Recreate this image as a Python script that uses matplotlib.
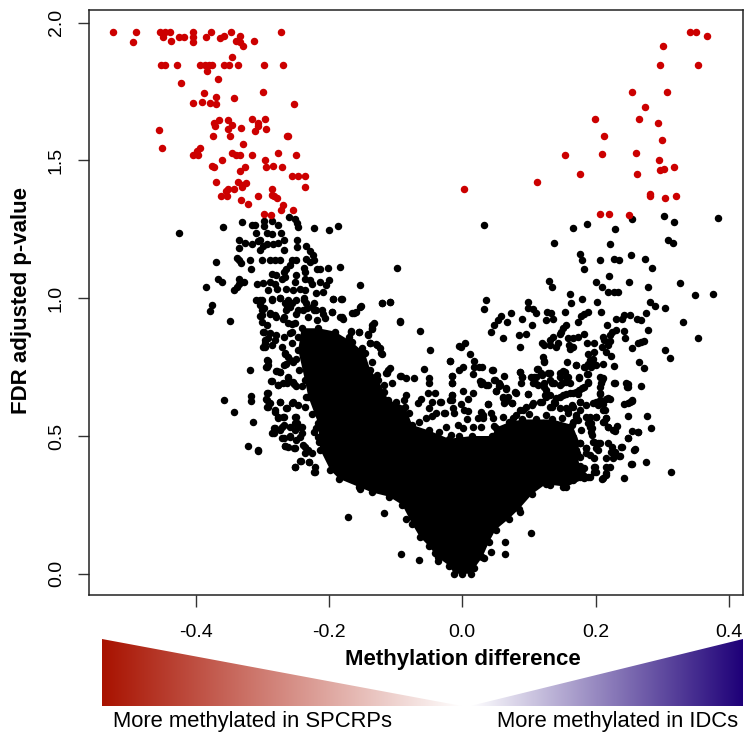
import numpy as np
import matplotlib
matplotlib.use("Agg")
import matplotlib.pyplot as plt
from matplotlib.colors import LinearSegmentedColormap
from matplotlib.patches import Polygon

# Significant CpG sites (red)
red_left = [(-.524,1.967),(-.489,1.967),(-.493,1.928),(-.453,1.967),(-.446,1.967),(-.438,1.967),(-.449,1.949),(-.437,1.933),
(-.425,1.949),(-.417,1.947),(-.403,1.967),(-.404,1.947),(-.404,1.928),(-.384,1.947),(-.377,1.967),(-.364,1.943),(-.357,1.950),
(-.347,1.967),(-.333,1.950),(-.339,1.933),(-.334,1.931),(-.329,1.915),(-.312,1.933),(-.272,1.967),
(-.451,1.847),(-.446,1.847),(-.428,1.847),(-.393,1.847),(-.386,1.847),(-.380,1.847),(-.375,1.847),(-.358,1.847),(-.350,1.847),
(-.337,1.847),(-.298,1.847),(-.269,1.847),(-.383,1.825),(-.345,1.874),(-.366,1.796),(-.421,1.780),(-.387,1.743),(-.369,1.731),
(-.342,1.725),(-.299,1.749),(-.403,1.708),(-.391,1.711),(-.378,1.708),(-.370,1.704),(-.253,1.704),(-.365,1.647),(-.373,1.635),
(-.371,1.624),(-.351,1.647),(-.346,1.627),(-.352,1.615),(-.332,1.616),(-.316,1.652),(-.296,1.652),(-.307,1.636),(-.307,1.624),
(-.295,1.615),(-.311,1.605),(-.455,1.610),(-.374,1.587),(-.349,1.587),(-.263,1.587),(-.261,1.587),(-.329,1.561),(-.450,1.545),
(-.394,1.546),(-.398,1.534),(-.404,1.518),(-.396,1.518),(-.345,1.528),(-.340,1.519),(-.333,1.519),(-.315,1.519),(-.276,1.526),
(-.249,1.519),(-.361,1.500),(-.296,1.501),(-.295,1.476),(-.284,1.479),(-.270,1.477),(-.375,1.479),(-.372,1.477),(-.326,1.477),
(-.334,1.462),(-.256,1.442),(-.247,1.442),(-.236,1.442),(-.369,1.420),(-.336,1.421),(-.325,1.419),(-.331,1.409),(-.330,1.402),
(-.236,1.404),(-.351,1.396),(-.355,1.388),(-.342,1.396),(-.362,1.372),(-.353,1.372),(-.286,1.396),(-.307,1.372),(-.286,1.373),
(-.282,1.371),(-.278,1.362),(-.332,1.356),(-.322,1.342),(-.269,1.339),(-.272,1.320),(-.254,1.321),(-.297,1.307),(-.287,1.301)]
red_right = [(.341,1.967),(.351,1.967),(.367,1.950),(.301,1.915),(.297,1.847),(.354,1.847),(.255,1.749),(.307,1.749),(.274,1.694),
(.199,1.652),(.265,1.652),(.293,1.635),(.212,1.587),(.300,1.575),(.154,1.519),(.210,1.522),(.261,1.526),(.295,1.500),(.317,1.476),
(.296,1.465),(.302,1.467),(.176,1.450),(.262,1.450),(.112,1.423),(.002,1.396),(.282,1.378),(.281,1.372),(.304,1.362),(.321,1.372),
(.207,1.304),(.220,1.304),(.250,1.301)]

# Non-significant sites (black), left arm
black_left = [(-.424,1.237),(-.359,1.257),(-.330,1.278),(-.316,1.267),(-.311,1.266),(-.298,1.279),(-.298,1.261),(-.286,1.279),(-.276,1.266),
(-.260,1.295),(-.251,1.289),(-.248,1.273),(-.246,1.258),(-.223,1.254),(-.200,1.247),(-.186,1.261),(-.309,1.237),(-.293,1.237),(-.286,1.234),
(-.272,1.237),(-.335,1.212),(-.326,1.200),(-.316,1.198),(-.306,1.208),(-.304,1.212),(-.293,1.198),(-.284,1.198),(-.276,1.202),(-.268,1.212),
(-.248,1.212),(-.335,1.182),(-.304,1.176),(-.299,1.188),(-.268,1.174),(-.248,1.184),(-.234,1.188),(-.228,1.171),(-.224,1.156),(-.223,1.140),
(-.234,1.144),(-.228,1.131),(-.370,1.133),(-.338,1.147),(-.335,1.138),(-.332,1.128),(-.319,1.140),(-.317,1.107),(-.300,1.140),(-.289,1.140),
(-.281,1.140),(-.274,1.140),(-.256,1.140),(-.249,1.140),(-.259,1.119),(-.265,1.107),(-.268,1.095),(-.238,1.111),(-.236,1.095),(-.218,1.107),
(-.214,1.107),(-.202,1.111),(-.183,1.113),(-.098,1.110),(-.286,1.089),(-.279,1.083),(-.271,1.071),(-.266,1.077),(-.249,1.083),(-.236,1.071),
(-.251,1.059),(-.229,1.065),(-.367,1.069),(-.361,1.059),(-.384,1.042),(-.335,1.071),(-.328,1.060),(-.335,1.051),(-.338,1.041),(-.343,1.028),
(-.308,1.051),(-.299,1.055),(-.289,1.059),(-.281,1.053),(-.278,1.035),(-.291,1.028),(-.264,1.035),(-.254,1.029),(-.244,1.035),(-.236,1.029),
(-.226,1.053),(-.214,1.059),(-.200,1.065),(-.204,1.047),(-.209,1.023),(-.219,1.019),(-.153,1.049),(-.310,.993),(-.301,.993),(-.286,.995),
(-.274,.999),(-.261,.995),(-.249,.993),(-.238,.999),(-.194,.996),(-.181,.996),(-.120,.981),(-.109,.987),(-.376,.976),(-.379,.953),(-.349,.919),
(-.304,.975),(-.300,.956),(-.304,.935),(-.300,.914),(-.299,.878),(-.293,.902),(-.289,.942),(-.279,.932),(-.269,.926),(-.266,.981),(-.259,.968),
(-.264,.956),(-.249,.944),(-.256,.908),(-.239,.956),(-.234,.981),(-.226,.968),(-.219,.956),(-.209,.944),(-.196,.950),(-.184,.932),(-.179,.926),
(-.166,.947),(-.159,.950),(-.153,.968),(-.093,.915),(-.135,.904),(-.136,.890),(-.141,.866),(-.167,.878),(-.155,.878),(-.063,.881),(-.139,.838),
(-.129,.833),(-.124,.818),(-.120,.797),(-.049,.811),(-.005,.826),(-.018,.773),(-.057,.743),(-.296,.836),(-.299,.824),(-.291,.854),(-.279,.866),
(-.259,.872),(-.266,.799),(-.261,.787),(-.293,.775),(-.291,.757),(-.294,.749),(-.319,.738),(-.279,.735),(-.274,.733),(-.286,.700),(-.276,.685),
(-.269,.691),(-.261,.709),(-.254,.697),(-.249,.681),(-.264,.761),(-.254,.769),(-.111,.741),(-.115,.729),(-.093,.718),(-.084,.711),(-.073,.711),
(-.050,.709),(-.050,.691),(-.015,.717),(-.016,.691),(-.125,.657),(-.084,.648),(-.088,.630),(-.051,.657),(-.041,.657),(-.045,.624),(-.033,.624),
(-.050,.600),(-.062,.636),(-.066,.620),(-.016,.648),(-.016,.630),(-.026,.584),(-.039,.582),(-.046,.572),(-.054,.564),(-.293,.657),(-.294,.633),
(-.293,.606),(-.288,.618),(-.274,.622),(-.254,.622),(-.264,.600),(-.358,.630),(-.317,.645),(-.317,.628),(-.343,.587),(-.314,.551),(-.322,.463),
(-.307,.448),(-.281,.594),(-.276,.570),(-.269,.570),(-.249,.570),(-.251,.546),(-.244,.534),(-.281,.528),(-.285,.510),(-.271,.534),(-.259,.534),
(-.270,.491),(-.259,.500),(-.266,.464),(-.261,.459),(-.251,.455),(-.249,.485),(-.239,.467),(-.231,.449),(-.251,.389),(-.243,.409),(-.230,.404),
(-.221,.389),(-.222,.370),(-.172,.207),(-.153,.309),
(-.303,.994),(-.298,.963),(-.301,.939),(-.288,.945),(-.281,.939),(-.268,.933),(-.263,.963),(-.256,.981),(-.273,1.0),(-.286,.996),(-.246,.957),
(-.238,.993),(-.223,.981),(-.211,.957),(-.196,.951),(-.181,.933),(-.163,.948),(-.152,.972),(-.194,.997),(-.182,.997),(-.121,.984),(-.108,.987),
(-.093,.917),(-.133,.909),(-.136,.891),(-.141,.870),(-.167,.881),(-.155,.879),(-.138,.839),(-.128,.830),(-.122,.800),(-.108,.745),(-.113,.730),
(-.092,.718),(-.118,.685),(-.106,.691),(-.125,.657),(-.298,.879),(-.288,.872),(-.296,.848),(-.296,.824),(-.281,.848),(-.268,.860),(-.256,.879),
(-.266,.800),(-.258,.776),(-.268,.758),(-.292,.773),(-.293,.751),(-.278,.736),(-.273,.733),(-.262,.713),(-.287,.701),(-.276,.685),(-.263,.691),
(-.252,.689),(-.292,.657),(-.293,.630),(-.292,.606),(-.273,.624),(-.256,.621),(-.263,.603),(-.281,.588),(-.276,.564),(-.268,.570),(-.251,.570),
(-.268,.540),(-.273,.522),(-.283,.528),(-.283,.510),(-.258,.497),(-.268,.491),(-.251,.522),(-.243,.497),(-.266,.463),(-.252,.455),(-.307,.447),
(-.242,.410),(-.230,.404),(-.251,.389),(-.221,.370),(-.236,.461),(-.226,.437),(-.236,.437),(-.246,.612),(-.236,.606),(-.248,.546),(-.241,.534),
(-.241,.510),(-.223,.516),(-.216,.497),(-.231,.933),(-.218,.921),(-.206,.927),(-.251,.909),(-.261,.909),(-.223,.957),(-.233,.963),(-.246,.860),
(-.271,.824),(-.256,.836),(-.286,.830),
(-.118,.222),(-.085,.199),(-.092,.072),(-.065,.050),(-.037,.046),(-.041,.074),
(-.17,.86),(-.15,.82),(-.135,.77),(-.128,.72),(-.118,.66),(-.10,.625),(-.08,.585),(-.065,.55),(-.035,.515),(-.005,.50),
(-.25,.78),(-.245,.74),(-.24,.68),(-.235,.64),(-.225,.58),(-.22,.53),(-.215,.48)]

# Non-significant sites (black), right arm
black_right = [(.033,1.267),(.166,1.256),(.187,1.269),(.229,1.250),(.254,1.289),(.302,1.299),(.318,1.277),(.383,1.292),(.138,1.200),(.221,1.198),
(.308,1.210),(.316,1.202),(.176,1.161),(.180,1.140),(.207,1.140),(.227,1.141),(.235,1.140),(.253,1.158),(.274,1.142),(.284,1.110),(.183,1.106),
(.220,1.080),(.130,1.061),(.134,1.041),(.201,1.059),(.209,1.041),(.250,1.059),(.279,1.042),(.327,1.055),(.219,1.023),(.228,1.023),(.233,1.023),
(.162,1.017),(.349,1.011),(.376,1.014),(.035,.995),(.033,.959),(.098,.985),(.098,.966),(.106,.959),(.110,.948),(.163,.983),(.180,.996),(.202,.988),
(.282,.987),(.289,.972),(.304,.966),(.073,.948),(.058,.935),(.053,.920),(.048,.902),(.043,.877),(.067,.913),(.090,.923),(.105,.902),(.127,.950),
(.133,.948),(.126,.920),(.136,.925),(.154,.949),(.173,.913),(.188,.950),(.183,.944),(.178,.937),(.208,.949),(.276,.947),(.251,.938),(.243,.938),
(.240,.923),(.230,.923),(.262,.925),(.268,.920),(.331,.915),(.217,.902),(.279,.884),(.155,.904),(.151,.893),(.148,.878),(.146,.869),(.230,.883),
(.225,.878),(.242,.881),(.061,.857),(.085,.866),(.096,.869),(.183,.869),(.173,.860),(.166,.857),(.158,.854),(.136,.860),(.132,.848),(.120,.838),
(.122,.830),(.143,.838),(.141,.824),(.132,.830),(.087,.824),(.354,.857),(.244,.854),(.254,.821),(.263,.838),(.272,.845),(.268,.842),(.211,.860),
(.221,.866),(.213,.848),(.222,.845),(.218,.830),(.210,.824),(.187,.839),(.198,.839),(.160,.830),(.166,.824),(.162,.814),(.304,.811),(.312,.784),
(.004,.839),(-.002,.824),(.188,.799),(.197,.805),(.216,.805),(.223,.790),(.121,.787),(.122,.773),(.012,.796),(.018,.773),(.025,.751),(.018,.751),
(-.018,.773),(.001,.749),(-.005,.739),(.016,.726),(.157,.767),(.171,.757),(.191,.775),(.196,.781),(.188,.761),(.198,.763),(.183,.751),(.211,.761),
(.193,.751),(.227,.755),(.265,.767),(.273,.745),(.045,.741),(.062,.718),(-.015,.718),(-.016,.691),(.086,.733),(.089,.715),(.088,.691),(.112,.744),
(.103,.715),(.111,.715),(.106,.691),(.113,.685),(.118,.727),(.128,.727),(.131,.703),(.123,.691),(.151,.735),(.155,.715),(.147,.715),(.156,.697),
(.149,.691),(.138,.691),(.188,.724),(.175,.711),(.188,.697),(.182,.679),(.175,.667),(.207,.715),(.211,.709),(.208,.691),(.206,.679),(.228,.691),
(.246,.693),(.247,.679),(.268,.683),(.027,.700),(.028,.688),(.036,.684),(.047,.703),(.055,.691),(.057,.684),(.051,.663),(.066,.672),(.001,.664),
(.016,.657),(.009,.633),(-.016,.648),(-.018,.630),(.080,.657),(.098,.652),(.061,.640),(.068,.640),(.063,.621),(.074,.621),(.039,.616),(-.032,.623),
(-.002,.616),(.002,.594),(.009,.590),(-.014,.600),(-.013,.584),(-.027,.584),(.028,.588),(.043,.584),(.007,.560),(.031,.564),(.023,.564),(.016,.534),
(-.007,.540),(.001,.528),(-.024,.534),(-.017,.503),(.047,.536),(.028,.534),(.156,.654),(.166,.657),(.173,.654),(.146,.642),(.138,.624),(.126,.666),
(.126,.642),(.116,.624),(.106,.618),(.096,.606),(.086,.594),(.207,.654),(.216,.636),(.221,.634),(.201,.624),(.211,.616),(.176,.624),(.166,.606),
(.243,.615),(.251,.624),(.255,.630),(.248,.572),(.277,.572),(.283,.528),(.134,.606),(.146,.600),(.156,.600),(.158,.582),(.171,.576),(.173,.558),
(.166,.552),(.186,.570),(.201,.570),(.193,.546),(.216,.564),(.211,.594),(.213,.552),(.191,.534),(.193,.516),(.218,.534),(.226,.521),(.232,.536),
(.255,.519),(.263,.515),(.248,.491),(.178,.521),(.166,.497),(.156,.516),(.143,.534),(.136,.546),(.121,.546),(.106,.546),(.198,.479),(.206,.473),
(.218,.473),(.201,.455),(.223,.443),(.238,.459),(.258,.449),(.236,.427),(.226,.419),(.216,.419),(.253,.397),(.275,.404),(.313,.368),(.186,.455),
(.186,.437),(.198,.419),(.198,.389),(.198,.371),(.216,.389),(.221,.389),(.216,.364),(.211,.346),(.242,.346),(.188,.352),(.183,.346),(.183,.383),
(.176,.352),(.166,.340),(.151,.316),(.131,.322),(.176,.473),(.171,.449),(.163,.437),(.176,.425),(.156,.401),
(.033,.058),(.043,.078),(.064,.073),(.064,.114),(.103,.148),(.086,.223),
(.046,.740),(.029,.752),(.029,.697),(.038,.685),(.049,.703),(.055,.681),(.066,.673),(.051,.663),(.079,.658),(.099,.652),(.061,.637),(.065,.628),
(.075,.621),(.039,.616),(.087,.733),(.089,.715),(.113,.743),(.123,.770),(.107,.715),(.109,.691),(.119,.721),(.131,.727),(.122,.679),(.124,.649),
(.131,.649),(.146,.685),(.134,.691),(.154,.733),(.159,.715),(.146,.727),(.161,.691),(.175,.715),(.187,.725),(.189,.691),(.179,.673),(.171,.661),
(.161,.655),(.151,.649),(.141,.637),(.139,.619),(.170,.758),(.184,.752),(.194,.764),(.201,.758),(.229,.694),(.248,.689),(.248,.677),(.209,.705),
(.207,.655),(.219,.637),(.206,.631),(.196,.619),(.255,.628),(.249,.621),(.176,.625),(.186,.613),(.164,.613),(.204,.613),(.214,.594),(.216,.564),
(.211,.552),(.201,.568),(.191,.570),(.189,.546),(.194,.528),(.194,.504),(.219,.534),(.229,.519),(.263,.516),(.249,.494),(.239,.459),(.259,.452),
(.235,.428),(.196,.479),(.204,.473),(.224,.461),(.229,.443),(.186,.455),(.191,.431),(.204,.449),(.255,.397),(.199,.389),(.200,.371),(.216,.359),
(.210,.343),(.091,.595),(.104,.613),(.119,.625),(.131,.607),(.159,.594),(.171,.570),(.176,.594),(.076,.564),(.061,.570),(.046,.564),(.031,.576),
(.08,.575),(.10,.58),(.125,.575),(.15,.565)]

# Outline of the region where the dots overlap into solid black
core_outline = [(-.246,.812),(-.241,.891),(-.216,.891),(-.191,.879),(-.166,.842),(-.146,.80),(-.138,.74),(-.126,.703),(-.111,.631),(-.086,.607),
(-.075,.54),(-.05,.52),(-.02,.49),(.015,.50),(.045,.50),(.05,.53),(.07,.55),(.09,.56),(.11,.56),(.135,.56),(.165,.54),(.176,.474),(.172,.44),(.176,.39),
(.191,.353),(.156,.316),(.125,.325),(.105,.29),(.085,.235),(.07,.20),(.05,.16),(.04,.115),(.03,.06),(.018,.02),(.013,.0),(0,.0),(-.012,.0),(-.02,.03),
(-.037,.06),(-.05,.10),(-.064,.135),(-.075,.18),(-.09,.25),(-.11,.28),(-.135,.295),(-.155,.315),(-.185,.345),(-.198,.377),(-.213,.45),(-.216,.546),
(-.231,.643),(-.236,.703)]

x_ticks = [-0.4, -0.2, 0.0, 0.2, 0.4]
y_ticks = [0.0, 0.5, 1.0, 1.5, 2.0]
x_title = "Methylation difference"
y_title = "FDR adjusted p-value"
left_caption = "More methylated in SPCRPs"
right_caption = "More methylated in IDCs"

W, H = 746, 740
plt.rcParams['font.family'] = ['Liberation Sans', 'DejaVu Sans']
fig = plt.figure(figsize=(W/100, H/100), dpi=100, facecolor='white')

L, R, T, B = 88.5, 742.7, 9.7, 595.3
ax = fig.add_axes([L/W, 1-B/H, (R-L)/W, (B-T)/H])
ax.set_xlim((L-462.3)/667, (R-462.3)/667)
ax.set_ylim((573.8-B)/275.6, (573.8-T)/275.6)

core = np.array(core_outline)
ax.add_patch(Polygon(core, closed=True, fc='black', ec='none', zorder=2))
for pts, col in [(core_outline, 'black'), (black_left, 'black'), (black_right, 'black'), (red_left, '#CC0000'), (red_right, '#CC0000')]:
    a = np.array(pts)
    ax.scatter(a[:, 0], a[:, 1], s=29, c=col, linewidths=0, zorder=3)

for s in ax.spines.values():
    s.set_linewidth(1.1)
    s.set_color('#222222')
ax.set_xticks(x_ticks, [f"{v:.1f}" for v in x_ticks])
ax.set_yticks(y_ticks, [f"{v:.1f}" for v in y_ticks])
ax.tick_params(axis='x', length=8.4, width=1.0, color='#333333', labelsize=14, pad=12)
ax.tick_params(axis='y', length=8.0, width=1.0, color='#333333', labelsize=14, pad=9)
for t in ax.get_yticklabels():
    t.set_rotation(90)
    t.set_va('center')

fig.text(22/W, 1-301/H, y_title, rotation=90, ha='center', va='center', fontsize=16, fontweight='bold')
fig.text(463/W, 1-660/H, x_title, ha='center', va='center', fontsize=16, fontweight='bold')
fig.text(252.5/W, 1-722/H, left_caption, ha='center', va='center', fontsize=15.8)
fig.text(618/W, 1-722/H, right_caption, ha='center', va='center', fontsize=15.8)

# Gradient wedges under the x axis, laid out in figure pixels
ov = fig.add_axes([0, 0, 1, 1], zorder=-1)
ov.axis('off')
cm_l = LinearSegmentedColormap.from_list('l', ['#A81200', '#FFFFFF'])
cm_r = LinearSegmentedColormap.from_list('r', ['#FFFFFF', '#1E0078'])
grad = np.linspace(0, 1, 256)[None, :]
im = ov.imshow(grad, cmap=cm_l, extent=[101.5, 462, 705.7, 639.3], aspect='auto', zorder=1)
im.set_clip_path(Polygon([(101.5, 639.3), (101.5, 705.7), (462, 705.7)], transform=ov.transData))
im = ov.imshow(grad, cmap=cm_r, extent=[470, 743, 705.7, 639.3], aspect='auto', zorder=1)
im.set_clip_path(Polygon([(743, 639.3), (743, 705.7), (470, 705.7)], transform=ov.transData))
ov.set_xlim(0, W); ov.set_ylim(H, 0)

fig.savefig('out.png', dpi=100, facecolor='white')
